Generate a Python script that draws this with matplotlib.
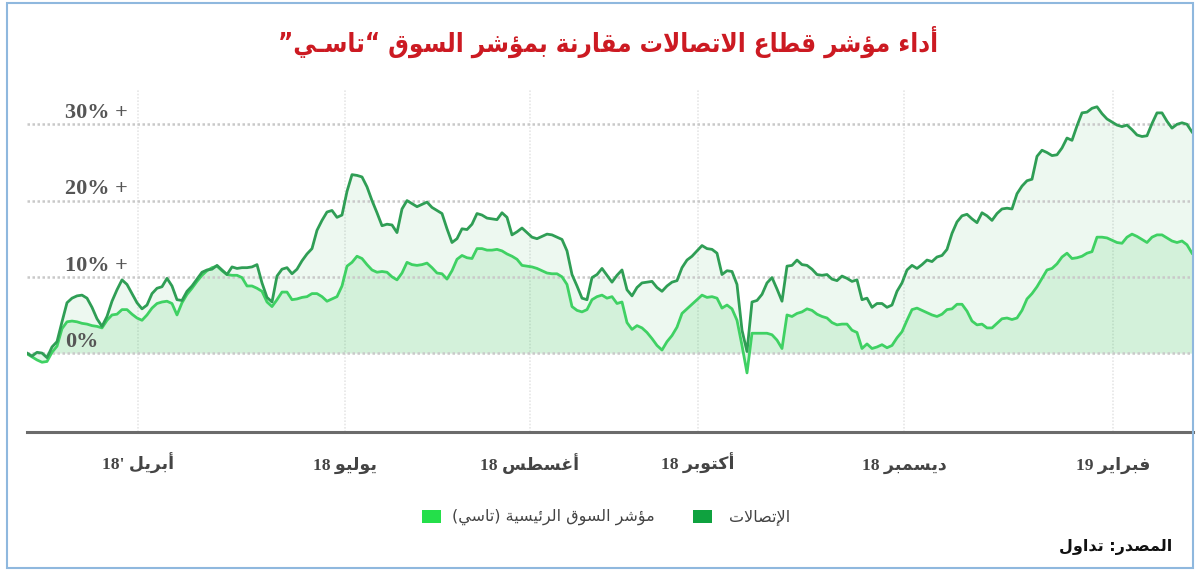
import re
import matplotlib
matplotlib.use("Agg")
import matplotlib.pyplot as plt
from matplotlib.patches import Rectangle

# ---- data (percent change since start, one value per trading day) ----
telecom = [
    0.0, -0.4, 0.1, 0.0, -0.6, 0.8, 1.5, 4.1, 6.6, 7.2, 7.5, 7.6, 7.2, 6.0, 4.5, 3.5,
    4.8, 6.8, 8.3, 9.6, 9.0, 7.8, 6.6, 5.8, 6.3, 7.8, 8.5, 8.7, 9.8, 8.8, 7.0, 6.9,
    8.1, 8.8, 9.7, 10.6, 10.9, 11.0, 11.5, 10.9, 10.3, 11.3, 11.1, 11.2, 11.2, 11.3, 11.6, 9.2,
    7.3, 6.7, 10.1, 11.0, 11.2, 10.4, 11.0, 12.1, 13.0, 13.7, 16.1,
    17.4, 18.5, 18.7, 17.8, 18.1, 21.2, 23.4, 23.3, 23.1, 21.8, 20.0, 18.4, 16.7, 16.9, 16.8, 15.8,
    18.9, 20.0, 19.6, 19.2, 19.5, 19.8, 19.1, 18.7, 18.3, 16.3, 14.5, 15.0, 16.3, 16.2, 16.9, 18.3,
    18.1, 17.7, 17.6, 17.5, 18.4, 17.8, 15.5, 15.9, 16.4, 15.8, 15.2, 15.0, 15.3, 15.6, 15.5, 15.2,
    14.9, 13.4, 10.3, 8.8, 7.2, 7.0, 9.9, 10.3, 11.1, 10.2,
    9.3, 10.2, 10.9, 8.3, 7.5, 8.6, 9.2, 9.3, 9.4, 8.6, 8.1, 8.8, 9.3, 9.5, 11.2, 12.2,
    12.7, 13.4, 14.1, 13.7, 13.6, 13.1, 10.3, 10.8, 10.7, 9.0, 3.0, 0.2, 6.7, 6.9, 7.7, 9.2,
    9.9, 8.4, 6.8, 11.4, 11.5, 12.2, 11.6, 11.5, 11.0, 10.3, 10.2, 10.3, 9.7, 9.5, 10.1, 9.8,
    9.4, 9.6, 7.0, 7.2, 6.0, 6.5, 6.5, 6.0, 6.3, 8.1,
    9.2, 10.9, 11.5, 11.1, 11.6, 12.2, 12.0, 12.6, 12.8, 13.6, 15.7, 17.2, 18.0, 18.2, 17.6, 17.1,
    18.4, 18.0, 17.4, 18.3, 18.9, 19.0, 18.9, 20.9, 21.9, 22.6, 22.8, 25.8, 26.6, 26.3, 25.9, 26.0,
    26.9, 28.2, 27.9, 29.8, 31.5, 31.6, 32.1, 32.3, 31.4, 30.7, 30.3, 29.9, 29.7, 29.9, 29.3, 28.6,
    28.4, 28.5, 30.1, 31.5, 31.5, 30.4, 29.5, 30.0, 30.2, 30.0, 29.0,
]
tasi = [
    -0.1, -0.5, -0.9, -1.2, -1.1, 0.1, 0.9, 3.2, 4.1, 4.2, 4.1, 3.9, 3.8, 3.6, 3.5, 3.3,
    4.3, 5.0, 5.1, 5.7, 5.7, 5.1, 4.6, 4.3, 5.0, 5.9, 6.5, 6.7, 6.8, 6.5, 5.0, 6.6,
    7.7, 8.5, 9.4, 10.2, 10.8, 11.2, 11.4, 10.8, 10.3, 10.2, 10.2, 9.9, 8.8, 8.8, 8.5, 8.1,
    6.7, 6.1, 7.0, 8.0, 8.0, 7.0, 7.1, 7.3, 7.4, 7.8, 7.8,
    7.4, 6.8, 7.1, 7.4, 8.8, 11.4, 11.9, 12.7, 12.4, 11.6, 10.9, 10.6, 10.7, 10.6, 10.0, 9.6,
    10.5, 11.9, 11.6, 11.5, 11.6, 11.8, 11.2, 10.5, 10.4, 9.7, 10.8, 12.3, 12.8, 12.5, 12.4, 13.7,
    13.7, 13.5, 13.5, 13.6, 13.4, 13.0, 12.7, 12.3, 11.5, 11.4, 11.3, 11.1, 10.8, 10.5, 10.4, 10.4,
    10.0, 9.0, 6.1, 5.6, 5.4, 5.7, 7.0, 7.4, 7.6, 7.2,
    7.4, 6.5, 6.7, 4.0, 3.1, 3.6, 3.3, 2.7, 1.9, 1.0, 0.4, 1.5, 2.3, 3.4, 5.2, 5.8,
    6.4, 7.0, 7.6, 7.3, 7.4, 7.2, 5.9, 6.3, 5.8, 4.3, 1.0, -2.6, 2.6, 2.6, 2.6, 2.6,
    2.4, 1.7, 0.6, 5.0, 4.8, 5.2, 5.4, 5.8, 5.6, 5.1, 4.8, 4.6, 4.0, 3.7, 3.8, 3.8,
    3.0, 2.7, 0.6, 1.2, 0.6, 0.8, 1.1, 0.7, 1.0, 2.0,
    2.8, 4.3, 5.7, 5.9, 5.6, 5.3, 5.0, 4.8, 5.1, 5.7, 5.8, 6.4, 6.4, 5.5, 4.2, 3.7,
    3.8, 3.3, 3.3, 3.9, 4.5, 4.6, 4.4, 4.6, 5.6, 7.1, 7.8, 8.7, 9.8, 10.9, 11.1, 11.7,
    12.6, 13.1, 12.4, 12.5, 12.7, 13.1, 13.3, 15.2, 15.2, 15.1, 14.8, 14.5, 14.4, 15.2, 15.6, 15.3,
    14.9, 14.5, 15.2, 15.5, 15.5, 15.1, 14.7, 14.5, 14.7, 14.2, 13.1,
]
days = list(range(len(telecom)))

tick_days = [22.2, 63.6, 100.6, 134.2, 175.4, 217.2]
tick_labels = ["أبريل '18", "يوليو 18", "أغسطس 18", "أكتوبر 18", "ديسمبر 18", "فبراير 19"]
grid_values = [0, 10, 20, 30]
grid_labels = ["0%", "10% +", "20% +", "30% +"]

title = "أداء مؤشر قطاع الاتصالات مقارنة بمؤشر السوق “تاسـي”"
legend_names = ["الإتصالات", "مؤشر السوق الرئيسية (تاسي)"]
source = "المصدر: تداول"

# ---- minimal Arabic shaping (matplotlib has no complex text layout) ----
# code point -> (first presentation form, number of forms)
FORMS = {
    0x0621: (0xFE80, 1), 0x0622: (0xFE81, 2), 0x0623: (0xFE83, 2), 0x0624: (0xFE85, 2),
    0x0625: (0xFE87, 2), 0x0626: (0xFE89, 4), 0x0627: (0xFE8D, 2), 0x0628: (0xFE8F, 4),
    0x0629: (0xFE93, 2), 0x062A: (0xFE95, 4), 0x062B: (0xFE99, 4), 0x062C: (0xFE9D, 4),
    0x062D: (0xFEA1, 4), 0x062E: (0xFEA5, 4), 0x062F: (0xFEA9, 2), 0x0630: (0xFEAB, 2),
    0x0631: (0xFEAD, 2), 0x0632: (0xFEAF, 2), 0x0633: (0xFEB1, 4), 0x0634: (0xFEB5, 4),
    0x0635: (0xFEB9, 4), 0x0636: (0xFEBD, 4), 0x0637: (0xFEC1, 4), 0x0638: (0xFEC5, 4),
    0x0639: (0xFEC9, 4), 0x063A: (0xFECD, 4), 0x0641: (0xFED1, 4), 0x0642: (0xFED5, 4),
    0x0643: (0xFED9, 4), 0x0644: (0xFEDD, 4), 0x0645: (0xFEE1, 4), 0x0646: (0xFEE5, 4),
    0x0647: (0xFEE9, 4), 0x0648: (0xFEED, 2), 0x0649: (0xFEEF, 2), 0x064A: (0xFEF1, 4),
}
LAM_ALEF = {0x0622: 0xFEF5, 0x0623: 0xFEF7, 0x0625: 0xFEF9, 0x0627: 0xFEFB}


def jtype(c):
    if isinstance(c, tuple):
        return "R"
    if c == "\u0640":
        return "D"
    f = FORMS.get(ord(c))
    if f is None or f[1] == 1:
        return None
    return "D" if f[1] == 4 else "R"


def shape(text):
    chars, i = [], 0
    while i < len(text):
        if text[i] == "\u0644" and i + 1 < len(text) and ord(text[i + 1]) in LAM_ALEF:
            chars.append(("LA", ord(text[i + 1])))
            i += 2
        else:
            chars.append(text[i])
            i += 1
    out = []
    for k, c in enumerate(chars):
        t = jtype(c)
        prev = jtype(chars[k - 1]) if k > 0 else None
        nxt = jtype(chars[k + 1]) if k + 1 < len(chars) else None
        jp = t is not None and prev == "D"
        jn = t == "D" and nxt is not None
        if isinstance(c, tuple):
            out.append(chr(LAM_ALEF[c[1]] + (1 if jp else 0)))
        elif t is None or c == "\u0640":
            out.append(c)
        else:
            first, n = FORMS[ord(c)]
            if n == 2:
                idx = 1 if jp else 0
            else:
                idx = 3 if (jp and jn) else 1 if jp else 2 if jn else 0
            out.append(chr(first + idx))
    return "".join(out)


def rtl(text):
    s = shape(text)[::-1]
    s = re.sub(r"[0-9A-Za-z.%]+", lambda m: m.group(0)[::-1], s)
    return s.translate(str.maketrans("()", ")("))


# ---- figure ----
W, H = 1200, 573
fig = plt.figure(figsize=(W / 100, H / 100), dpi=100)
fig.patch.set_facecolor("white")


def fx(px):
    return px / W


def fy(py):
    return 1 - py / H


ax = fig.add_axes([fx(27), fy(432), fx(1193) - fx(27), fy(90) - fy(432)])
ax.set_xlim(0, len(days) - 1 + 0.2)
ax.set_ylim(-10.35, 34.5)

dark = "#2f9e55"
bright = "#3fd163"
ax.fill_between(days, 0, telecom, color="#2fae55", alpha=0.085, lw=0, zorder=1)
ax.fill_between(days, 0, tasi, color="#3fcf60", alpha=0.15, lw=0, zorder=1)
ax.plot(days, tasi, color=bright, lw=2.0, zorder=4, solid_joinstyle="round")
ax.plot(days, telecom, color=dark, lw=2.0, zorder=5, solid_joinstyle="round")

for v, lab in zip(grid_values, grid_labels):
    ax.axhline(v, color="#c9c9c9", lw=1.8, ls=(0, (1, 1)), zorder=2)
    ax.annotate(lab, xy=(0.033, v), xycoords=ax.get_yaxis_transform(),
                xytext=(0, 4.5), textcoords="offset points", va="baseline", ha="left",
                fontsize=16, fontweight="bold", color="#555555",
                family="Liberation Serif", zorder=6)

for d in tick_days:
    ax.axvline(d, color="#e6e6e6", lw=1.2, ls=(0, (1, 1)), zorder=0)

# x labels: serif digits, Arabic falls back to DejaVu Sans
for d, lab in zip(tick_days, tick_labels):
    ax.annotate(rtl(lab), xy=(d, 0), xycoords=ax.get_xaxis_transform(),
                xytext=(0, -27.5), textcoords="offset points", ha="center", va="baseline",
                fontsize=12.5, fontweight="bold", color="#444444",
                family=["Liberation Serif", "DejaVu Sans"], annotation_clip=False)

ax.set_xticks([])
ax.set_yticks([])
for side in ["top", "left", "right"]:
    ax.spines[side].set_visible(False)
ax.spines["bottom"].set_color("#6b6b6b")
ax.spines["bottom"].set_linewidth(2.2)

# title
fig.text(fx(608), fy(42), rtl(title), ha="center", va="center", fontsize=18.5,
         fontweight="bold", fontstretch="condensed", color="#cc1a22", family="DejaVu Sans")

# legend (drawn by hand, swatch left of text)
fig.patches.append(Rectangle((fx(693), fy(523)), fx(19), 13 / H, transform=fig.transFigure,
                             facecolor="#0fa23f", edgecolor="none"))
fig.text(fx(729), fy(517), rtl(legend_names[0]), ha="left", va="center", fontsize=11.5,
         color="#444444", family="DejaVu Sans")
fig.patches.append(Rectangle((fx(422), fy(523)), fx(19), 13 / H, transform=fig.transFigure,
                             facecolor="#24df4a", edgecolor="none"))
fig.text(fx(452), fy(517), rtl(legend_names[1]), ha="left", va="center", fontsize=11.5,
         color="#444444", family="DejaVu Sans")

# source
fig.text(fx(1172), fy(547), rtl(source), ha="right", va="center", fontsize=11.5,
         fontweight="bold", color="#111111", family="DejaVu Sans")

# frame
fig.patches.append(Rectangle((fx(7), fy(568)), fx(1186), (568 - 3) / H, transform=fig.transFigure,
                             facecolor="none", edgecolor="#8fb8de", lw=1.5))

fig.savefig("out.png", dpi=100)
